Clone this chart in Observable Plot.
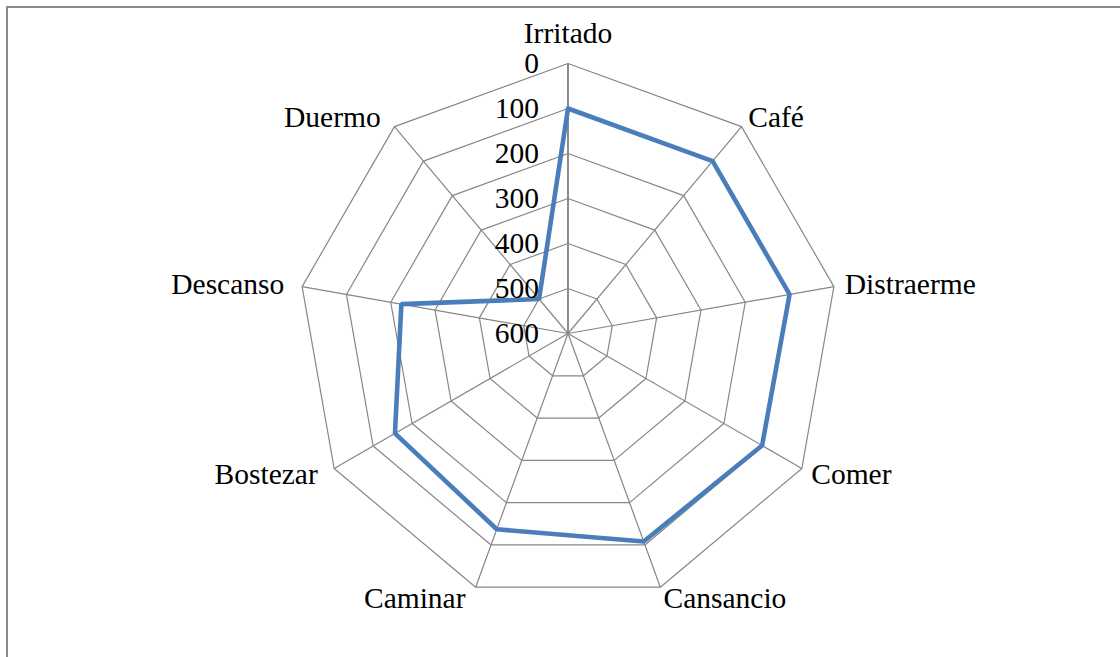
<!DOCTYPE html>
<html><head><meta charset="utf-8">
<script src="https://cdn.jsdelivr.net/npm/d3@7"></script>
<script src="https://cdn.jsdelivr.net/npm/@observablehq/plot@0.6"></script>
<style>
html,body{margin:0;padding:0;background:#fff;overflow:hidden;}
#frame{position:absolute;left:6px;top:6px;width:1120px;height:660px;border-top:2px solid #8a8a8a;border-left:2px solid #8a8a8a;}
#chart{position:absolute;left:0;top:0;}
</style></head><body>
<div id="frame"></div><div id="chart"></div>
<script>
const categories = ["Irritado","Café","Distraerme","Comer","Cansancio","Caminar","Bostezar","Descanso","Duermo"];
const values = [100, 100, 100, 102, 108, 137, 156, 224, 500];
const tickValues = [0, 100, 200, 300, 400, 500, 600];
const ringValues = [0, 100, 200, 300, 400, 500];
const axisMax = 600;

const W = 1120, H = 657, cx = 567.5, cy = 333, k = 0.45;
const n = categories.length;
const ang = i => i * 2 * Math.PI / n;
const pos = (v, i, extra = 0) => {
  const r = (axisMax - v) + extra;
  return {x: r * Math.sin(ang(i)), y: r * Math.cos(ang(i))};
};

const rings = [];
ringValues.forEach(t => {
  for (let i = 0; i <= n; i++) rings.push({ring: t, ...pos(t, i % n)});
});
const spokes = categories.map((c, i) => ({i, ...pos(0, i)}));
const series = [];
for (let i = 0; i <= n; i++) series.push({cat: categories[i % n], ...pos(values[i % n], i % n)});
const ticks = tickValues.map(t => ({label: String(t), x: 0, y: axisMax - t}));
const labelExtra = 12 / k;
const labels = categories.map((c, i) => ({label: c, i, ...pos(0, i, labelExtra)}));
const font = "'Liberation Serif','Times New Roman',serif";
const fs = 29.5;

const chart = Plot.plot({
  width: W, height: H,
  margin: 0,
  x: {domain: [-cx / k, (W - cx) / k], axis: null},
  y: {domain: [-(H - cy) / k, cy / k], axis: null},
  style: {fontFamily: font, background: "transparent"},
  marks: [
    Plot.line(rings, {x: "x", y: "y", z: "ring", stroke: "#868686", strokeWidth: 1.2}),
    Plot.link(spokes.filter(d => d.i > 0), {x1: 0, y1: 0, x2: "x", y2: "y", stroke: "#868686", strokeWidth: 1.2}),
    Plot.link(spokes.filter(d => d.i === 0), {x1: 0, y1: 0, x2: "x", y2: "y", stroke: "#868686", strokeWidth: 1.9}),
    Plot.line(series, {x: "x", y: "y", stroke: "#4A7EBB", strokeWidth: 4.6, strokeLinejoin: "miter"}),
    Plot.text(ticks, {x: "x", y: "y", text: "label", textAnchor: "end", dx: -29, fontSize: fs, fill: "#000", fontFamily: font}),
    Plot.text(labels.filter(d => d.i === 0), {x: "x", y: "y", text: "label", textAnchor: "middle", lineAnchor: "bottom", dy: -9, fontSize: fs, fill: "#000", fontFamily: font}),
    Plot.text(labels.filter(d => d.i > 0 && d.i <= 4), {x: "x", y: "y", text: "label", textAnchor: "start", dx: -1, fontSize: fs, fill: "#000", fontFamily: font}),
    Plot.text(labels.filter(d => d.i > 4), {x: "x", y: "y", text: "label", textAnchor: "end", dx: -6, fontSize: fs, fill: "#000", fontFamily: font})
  ]
});
document.getElementById("chart").appendChild(chart);
</script>
</body></html>
